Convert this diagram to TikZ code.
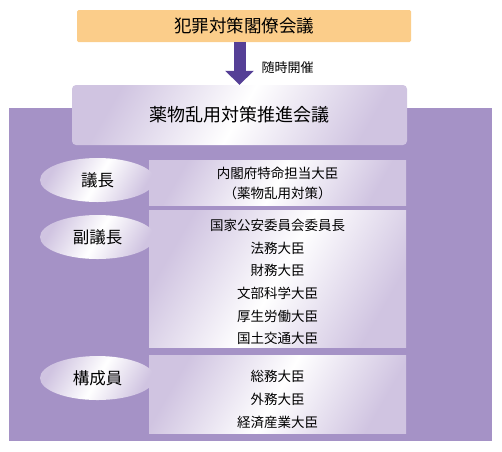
\documentclass[tikz,border=0pt]{standalone}
\usepackage{fontspec}
\setmainfont{Noto Sans CJK JP}
\usetikzlibrary{arrows.meta,shapes.geometric}
\usepackage{xcolor}

\definecolor{bgpurple}{HTML}{A592C6}
\definecolor{lavender}{HTML}{D0C4E1}
\definecolor{arrowpurple}{HTML}{553F96}
\definecolor{orangebox}{HTML}{FBCD8A}

\tikzset{
  gradbox/.style={left color=lavender, right color=lavender, middle color=white, shading angle=60},
  postbox/.style={gradbox, minimum width=257pt, inner sep=0pt},
  postlist/.style={align=center, inner sep=0pt, font=\fontsize{13.5}{22.6}\selectfont},
  rolebubble/.style={ellipse, gradbox, minimum width=115pt, minimum height=44pt, inner sep=0pt,
    font=\fontsize{16.5}{18}\selectfont},
}

\begin{document}
\begin{tikzpicture}[x=1pt,y=-1pt]
            \useasboundingbox (0,0) rectangle (502,451);
            \def\bgrect{(9,108) rectangle (492,441)}

            \fill[bgpurple] \bgrect;

            % top meeting and the council it calls
            \node[fill=orangebox, rounded corners=1.5pt, minimum width=334pt, minimum height=32pt,
              font=\fontsize{17.5}{20}\selectfont] (crime) at (244,26) {犯罪対策閣僚会議};
            \node[gradbox, rounded corners=4pt, minimum width=335pt, minimum height=60pt,
              font=\fontsize{18}{20}\selectfont] (council) at (239.5,115) {薬物乱用対策推進会議};
            \draw[arrowpurple, line width=12pt, -{Triangle[length=14pt,width=28pt]}]
              (council.north |- crime.south) -- (council.north);
            \node[anchor=west, font=\fontsize{13}{15}\selectfont] (when) at (258,68) {随時開催};

            % members
            \node[postbox, minimum height=45pt] (chairbox) at (277.5,182.5) {};
            \node[postbox, minimum height=137pt] (vicebox) at (277.5,278.5) {};
            \node[postbox, minimum height=78pt] (memberbox) at (277.5,394) {};

            \node[postlist, font=\fontsize{13.5}{20}\selectfont] (chairlist) at ([yshift=-1pt]chairbox.center)
              {内閣府特命担当大臣\\（薬物乱用対策）};
            \node[postlist] (vicelist) at ([yshift=-3.5pt]vicebox.center)
              {国家公安委員会委員長\\法務大臣\\財務大臣\\文部科学大臣\\厚生労働大臣\\国土交通大臣};
            \node[postlist] (memberlist) at ([yshift=-5.5pt]memberbox.center)
              {総務大臣\\外務大臣\\経済産業大臣};

            \node[rolebubble] (chair) at (97.5,180) {議長};
            \node[rolebubble] (vice) at (97.5,237) {副議長};
            \node[rolebubble] (member) at (97.5,378) {構成員};
        \end{tikzpicture}
\end{document}
